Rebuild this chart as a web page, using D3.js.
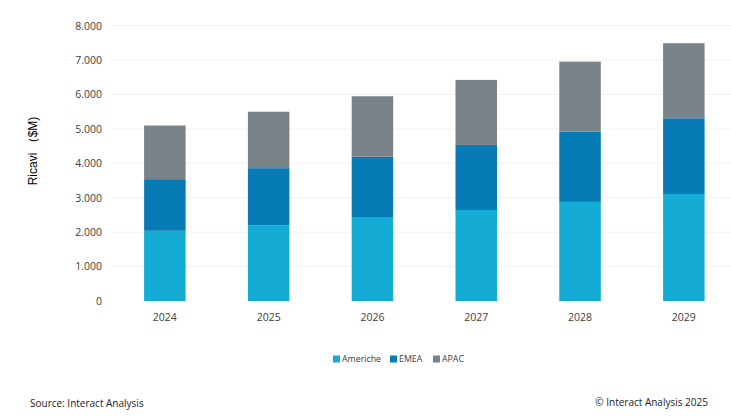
<!DOCTYPE html>
<html><head><meta charset="utf-8">
<script src="https://cdn.jsdelivr.net/npm/d3@7"></script>
<style>body{margin:0;background:#fff}svg{display:block}</style>
</head><body>
<svg id="c" width="731" height="419"></svg>
<script>
const years = ["2024","2025","2026","2027","2028","2029"];
const seriesNames = ["Americhe","EMEA","APAC"];
const americhe = [2040, 2200, 2420, 2645, 2880, 3110];
const emea = [1500, 1660, 1770, 1890, 2040, 2200];
const apac = [1560, 1640, 1760, 1890, 2035, 2180];
const yTicks = [0,1000,2000,3000,4000,5000,6000,7000,8000];
const colors = ["#14acd4","#067bb4","#7b838a"];

const svg = d3.select("#c");
const font = "'Open Sans', 'Noto Sans', sans-serif";
const rows = years.map((y,i)=>({year:y, Americhe:americhe[i], EMEA:emea[i], APAC:apac[i]}));
const stack = d3.stack().keys(seriesNames)(rows);

const x = d3.scaleBand().domain(years).range([144.1, 704.6]).paddingInner(0.6).paddingOuter(0);
const y = d3.scaleLinear().domain([0,8000]).range([301, 25.7]);

// gridlines
svg.append("g").selectAll("line").data(yTicks.slice(1)).join("line")
  .attr("x1",110).attr("x2",731).attr("y1",d=>y(d)).attr("y2",d=>y(d))
  .attr("stroke","#f2f2f2").attr("stroke-width",1);

// y axis
const yAxis = svg.append("g").attr("transform","translate(106,0)")
  .call(d3.axisLeft(y).tickValues(yTicks).tickSize(0).tickPadding(4)
    .tickFormat(d=>d3.format(",")(d).replace(/,/g,".")));
yAxis.select(".domain").remove();
yAxis.selectAll("text").attr("font-family",font).attr("font-size",10.5).attr("fill","#404040");

// bars
svg.append("g").selectAll("g").data(stack).join("g")
  .attr("fill",(d,i)=>colors[i])
  .selectAll("rect").data(d=>d).join("rect")
  .attr("x",d=>x(d.data.year)).attr("width",x.bandwidth())
  .attr("y",d=>y(d[1])).attr("height",d=>y(d[0])-y(d[1]));

// x axis
const xAxis = svg.append("g").attr("transform","translate(0,309)")
  .call(d3.axisBottom(x).tickSize(0).tickPadding(5));
xAxis.select(".domain").remove();
xAxis.selectAll("text").attr("font-family",font).attr("font-size",10.5).attr("fill","#404040");

// y title
svg.append("text").attr("transform","translate(37,151) rotate(-90)")
  .attr("text-anchor","middle").attr("font-family","'Liberation Sans', Arial, sans-serif")
  .attr("font-size",12).attr("fill","#000").text("Ricavi （$M)");

// legend
const legX = [333, 390, 433];
const leg = svg.append("g").selectAll("g").data(seriesNames).join("g")
  .attr("transform",(d,i)=>`translate(${legX[i]},359)`);
leg.append("rect").attr("x",0).attr("y",-3.5).attr("width",7).attr("height",7)
  .attr("fill",(d,i)=>colors[i]);
leg.append("text").attr("x",9).attr("y",3.3).attr("font-family",font)
  .attr("font-size",8.8).attr("fill","#404040").text(d=>d);

// footer
svg.append("text").attr("x",30).attr("y",407).attr("font-family",font)
  .attr("font-size",10).attr("fill","#222").text("Source: Interact Analysis");
svg.append("text").attr("x",708).attr("y",406).attr("text-anchor","end").attr("font-family",font)
  .attr("font-size",10).attr("fill","#222").text("© Interact Analysis 2025");
</script>
</body></html>
